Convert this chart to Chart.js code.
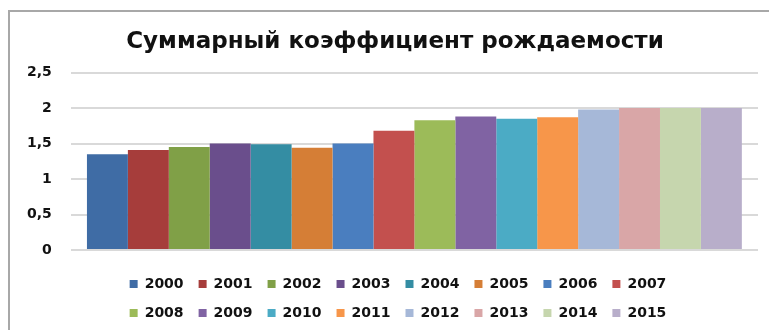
<!DOCTYPE html>
<html lang="ru">
<head>
    <meta charset="UTF-8" />
    <title>Суммарный коэффициент рождаемости</title>
    <script src="https://cdn.jsdelivr.net/npm/chart.js"></script>
    <style>
        html, body { margin: 0; padding: 0; background: #fff; }
        #wrap { width: 769px; height: 330px; }
    </style>
</head>
<body>
    <div id="wrap"><canvas id="tfrChart"></canvas></div>

    <script>
        const years = ['2000', '2001', '2002', '2003', '2004', '2005', '2006', '2007',
                       '2008', '2009', '2010', '2011', '2012', '2013', '2014', '2015'];
        const tfrValues = [1.35, 1.41, 1.45, 1.50, 1.49, 1.44, 1.50, 1.68,
                           1.83, 1.88, 1.85, 1.87, 1.98, 2.00, 2.00, 2.00];
        const barColors = ['#3F6CA5', '#A63D3B', '#80A047', '#6A4E8C', '#348DA3', '#D57E36', '#4A7EBF', '#C3504E',
                           '#9CBB59', '#8063A3', '#4BABC5', '#F7964A', '#A6B8D8', '#D9A6A7', '#C6D6AE', '#B8AECA'];
        const yTicks = [0, 0.5, 1, 1.5, 2, 2.5];

        const boldFont = 'DejaVu Sans';
        const legendWidth = 600;

        // one dataset per year, all in a single category
        const datasets = years.map((year, i) => ({
            label: year,
            data: [tfrValues[i]],
            backgroundColor: barColors[i],
            borderWidth: 0
        }));

        // grey frame on the top and left edges, like the cropped office chart
        const framePlugin = {
            id: 'frame',
            beforeDraw(chart) {
                const ctx = chart.ctx;
                ctx.save();
                ctx.strokeStyle = '#A8A8A8';
                ctx.lineWidth = 2;
                ctx.beginPath();
                ctx.moveTo(9, 330);
                ctx.lineTo(9, 11);
                ctx.lineTo(769, 11);
                ctx.stroke();
                ctx.restore();
            }
        };

        // legend in two rows of 8, title nudged right like the original
        const boxTweaks = {
            id: 'boxTweaks',
            beforeLayout(chart) {
                const legend = chart.legend;
                if (!legend || legend._rowsPatched) return;
                const fit = legend.fit.bind(legend);
                legend.fit = function () {
                    this.maxWidth = Math.min(this.maxWidth, legendWidth);
                    fit();
                };
                legend._rowsPatched = true;
            },
            afterLayout(chart) {
                const legend = chart.legend;
                legend.left = 398 - legendWidth / 2;
                legend.right = legend.left + legendWidth;
                legend.width = legendWidth;
                const title = chart.titleBlock;
                title.left += 24;
                title.width = title.right - title.left;
            }
        };

        new Chart(document.getElementById('tfrChart'), {
            type: 'bar',
            data: { labels: [''], datasets: datasets },
            plugins: [framePlugin, boxTweaks],
            options: {
                responsive: true,
                maintainAspectRatio: false,
                animation: false,
                layout: { padding: { left: 8, right: 11, top: 0, bottom: 0 } },
                datasets: {
                    bar: { barPercentage: 1, categoryPercentage: 0.953 }
                },
                plugins: {
                    title: {
                        display: true,
                        text: 'Суммарный коэффициент рождаемости',
                        color: '#111',
                        font: { family: boldFont, size: 23, weight: 'bold' },
                        padding: { top: 28, bottom: 17 }
                    },
                    legend: {
                        position: 'bottom',
                        labels: {
                            boxWidth: 8,
                            boxHeight: 8,
                            padding: 15,
                            color: '#111',
                            font: { family: boldFont, size: 14, weight: 'bold' }
                        }
                    },
                    tooltip: { enabled: false }
                },
                scales: {
                    x: {
                        ticks: { display: false },
                        grid: { display: false, drawTicks: false },
                        border: { display: false },
                        afterFit(scale) { scale.height = 12; }
                    },
                    y: {
                        min: 0,
                        max: 2.5,
                        afterBuildTicks(scale) { scale.ticks = yTicks.map(v => ({ value: v })); },
                        ticks: {
                            padding: 19,
                            color: '#111',
                            font: { family: boldFont, size: 14, weight: 'bold' },
                            callback: v => String(v).replace('.', ',')
                        },
                        grid: { color: '#D9D9D9', lineWidth: 2, drawTicks: false },
                        border: { display: false }
                    }
                }
            }
        });
    </script>
</body>
</html>
